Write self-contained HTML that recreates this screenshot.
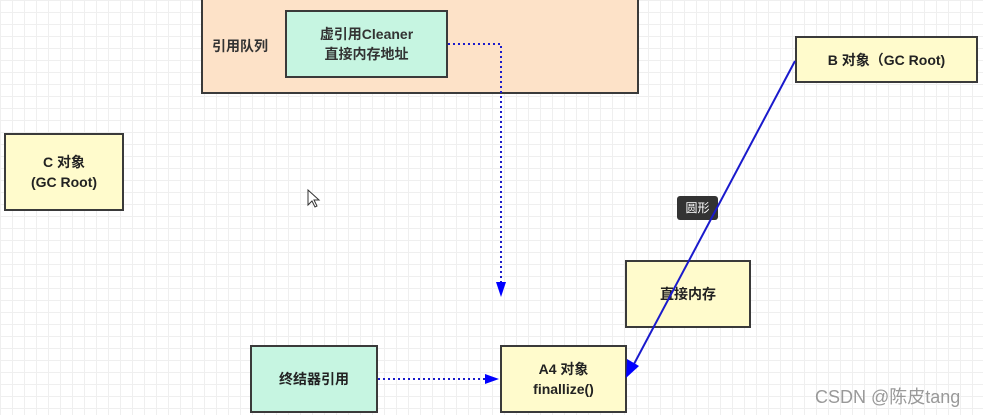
<!DOCTYPE html>
<html><head><meta charset="utf-8"><style>
body{margin:0;width:983px;height:415px;overflow:hidden;background:#fff;
background-image:linear-gradient(#efefef 1px,transparent 1px),linear-gradient(90deg,#efefef 1px,transparent 1px);background-size:12px 12px;
font-family:"Liberation Sans","Noto Sans CJK SC",sans-serif;position:relative}
.b{position:absolute;box-sizing:border-box;border:2px solid #3a3a3a;display:flex;align-items:center;justify-content:center;text-align:center;font-weight:bold;font-size:14px;color:#222;line-height:20px}
.y{background:#fffbcc}
.t{background:#c6f5e1}
</style></head><body>
<div class="b" style="left:201px;top:-2px;width:438px;height:96px;background:#fde2c8;justify-content:flex-start;padding-left:9px;color:#333">引用队列</div>
<div class="b t" style="left:285px;top:10px;width:163px;height:68px;color:#333">虚引用Cleaner<br>直接内存地址</div>
<div class="b y" style="left:4px;top:133px;width:120px;height:78px">C 对象<br>(GC Root)</div>
<div class="b y" style="left:795px;top:36px;width:183px;height:47px">B 对象（GC Root)</div>
<div class="b y" style="left:625px;top:260px;width:126px;height:68px">直接内存</div>
<div class="b t" style="left:250px;top:345px;width:128px;height:68px">终结器引用</div>
<div class="b y" style="left:500px;top:345px;width:127px;height:68px">A4 对象<br>finallize()</div>
<div style="position:absolute;left:677px;top:196px;width:41px;height:24px;background:#333;border-radius:3px;color:#fff;font-size:12px;line-height:24px;text-align:center">圆形</div>
<div style="position:absolute;left:815px;top:383px;font-size:18px;color:#999">CSDN @陈皮tang</div>
<svg width="983" height="415" style="position:absolute;left:0;top:0">
<polyline points="448,44 501,44 501,284" fill="none" stroke="#1a1acc" stroke-width="2" stroke-dasharray="2,3"/>
<polygon points="496,282 506,282 501,297" fill="#00f"/>
<line x1="378" y1="379" x2="487" y2="379" stroke="#1a1acc" stroke-width="2" stroke-dasharray="2,3"/>
<polygon points="485,374 485,384 499,379" fill="#00f"/>
<line x1="795" y1="61" x2="634" y2="364" stroke="#1a1acc" stroke-width="2"/>
<polygon points="626,378 627,359 639,366" fill="#00f"/>
<polygon points="308,190 308,205 312,201 315,207 317,206 314,200 319,200" fill="#fff" stroke="#333" stroke-width="1"/>
</svg>
</body></html>
